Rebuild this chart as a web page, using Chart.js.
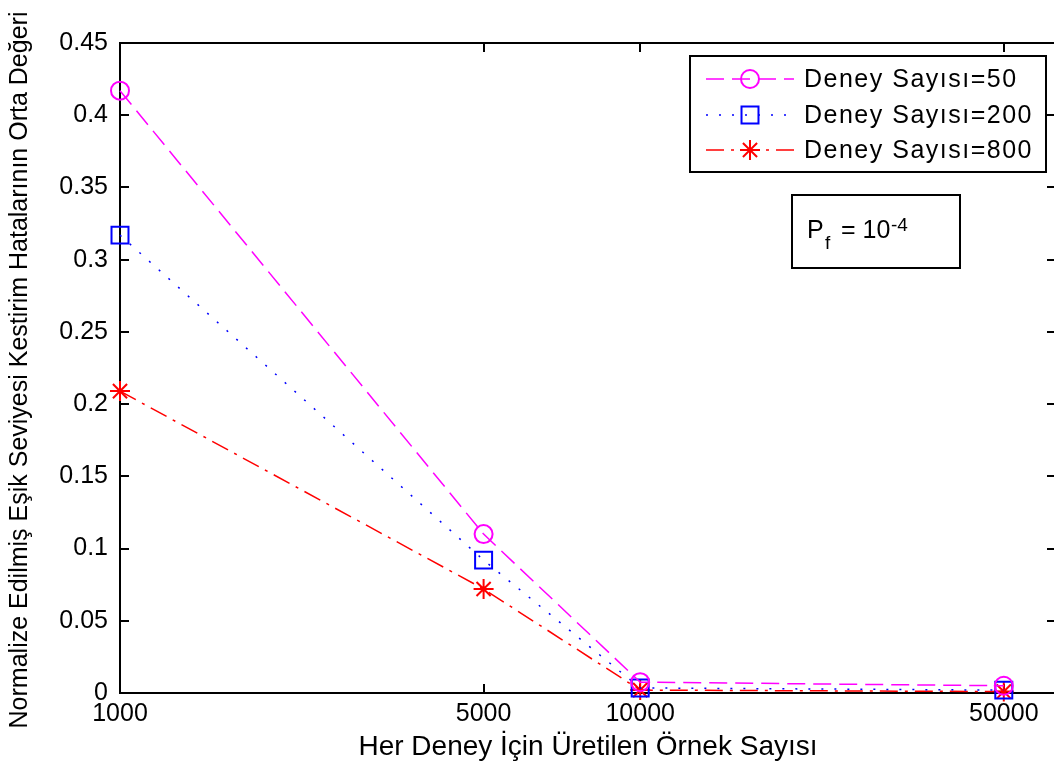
<!DOCTYPE html>
<html>
<head>
<meta charset="utf-8">
<script src="https://cdn.jsdelivr.net/npm/chart.js@4.4.1/dist/chart.umd.min.js"></script>
<style>
  html, body { margin: 0; padding: 0; background: #fff; overflow: hidden; }
  #wrap { width: 1054px; height: 771px; overflow: hidden; }
  canvas { display: block; }
</style>
</head>
<body>
<div id="wrap"><canvas id="chart" width="1070" height="771"></canvas></div>
<script>
// values
const sampleCounts = [1000, 5000, 10000, 50000];
const xTickLabels = ['1000', '5000', '10000', '50000'];
const yTickValues = [0, 0.05, 0.1, 0.15, 0.2, 0.25, 0.3, 0.35, 0.4, 0.45];
const trials50 = [0.417, 0.110, 0.0075, 0.005];
const trials200 = [0.317, 0.092, 0.0035, 0.002];
const trials800 = [0.209, 0.072, 0.002, 0.001];
const seriesLabels = ['Deney Sayısı=50', 'Deney Sayısı=200', 'Deney Sayısı=800'];
const xTitle = 'Her Deney İçin Üretilen Örnek Sayısı';
const yTitle = 'Normalize Edilmiş Eşik Seviyesi Kestirim Hatalarının Orta Değeri';

const FONT = '"Liberation Sans", Arial, sans-serif';

function toPoints(values) {
  return values.map((v, i) => ({ x: sampleCounts[i], y: v }));
}

const datasets = [
  {
    label: seriesLabels[0],
    data: toPoints(trials50),
    borderColor: '#ff00ff',
    borderDash: [18, 8],
    pointStyle: 'circle',
    pointRadius: 9,
  },
  {
    label: seriesLabels[1],
    data: toPoints(trials200),
    borderColor: '#0000ff',
    borderDash: [2, 11],
    pointStyle: 'rect',
    pointRadius: 12,
  },
  {
    label: seriesLabels[2],
    data: toPoints(trials800),
    borderColor: '#ff0000',
    borderDash: [18, 7, 3, 7],
    pointStyle: 'star',
    pointRadius: 10,
  },
].map(d => Object.assign(d, {
  borderWidth: 1.5,
  pointBorderColor: d.borderColor,
  pointBackgroundColor: 'rgba(0,0,0,0)',
  pointBorderWidth: 2,
  pointHoverRadius: d.pointRadius,
  fill: false,
  tension: 0,
  clip: false,
}));

// axes box with inward ticks on all four sides, like MATLAB
const framePlugin = {
  id: 'frame',
  beforeDatasetsDraw(chart) {
    const { ctx, chartArea: a, scales: { x, y } } = chart;
    const tl = 9;
    ctx.save();
    ctx.strokeStyle = '#000';
    ctx.lineWidth = 2;
    ctx.strokeRect(a.left, a.top, a.right - a.left, a.bottom - a.top);
    ctx.beginPath();
    y.ticks.forEach(t => {
      const py = Math.round(y.getPixelForValue(t.value));
      ctx.moveTo(a.left, py); ctx.lineTo(a.left + tl, py);
      ctx.moveTo(a.right, py); ctx.lineTo(a.right - tl, py);
    });
    x.ticks.forEach(t => {
      const px = Math.round(x.getPixelForValue(t.value));
      ctx.moveTo(px, a.bottom); ctx.lineTo(px, a.bottom - tl);
      ctx.moveTo(px, a.top); ctx.lineTo(px, a.top + tl);
    });
    ctx.stroke();
    ctx.restore();
  },
};

const annotPlugin = {
  id: 'annot',
  afterDraw(chart) {
    const { ctx, chartArea: a } = chart;
    ctx.save();

    // y axis title (drawn by hand, the built-in one gets squeezed to the axis height)
    ctx.fillStyle = '#000';
    ctx.font = '25px ' + FONT;
    ctx.textAlign = 'center';
    ctx.textBaseline = 'middle';
    ctx.translate(20, 370);
    ctx.rotate(-Math.PI / 2);
    ctx.fillText(yTitle, 0, 0);
    ctx.setTransform(1, 0, 0, 1, 0, 0);

    // legend box
    const lx = a.right - 366, ly = 56, lw = 356, lh = 116;
    ctx.fillStyle = '#fff';
    ctx.fillRect(lx, ly, lw, lh);
    ctx.strokeStyle = '#000';
    ctx.lineWidth = 2;
    ctx.strokeRect(lx, ly, lw, lh);
    const rows = [79, 115, 150];
    chart.data.datasets.forEach((ds, i) => {
      const ry = rows[i];
      ctx.strokeStyle = ds.borderColor;
      ctx.lineWidth = ds.borderWidth;
      ctx.setLineDash(ds.borderDash);
      ctx.beginPath();
      ctx.moveTo(lx + 16, ry);
      ctx.lineTo(lx + 104, ry);
      ctx.stroke();
      ctx.setLineDash([]);
      ctx.fillStyle = 'rgba(0,0,0,0)';
      ctx.lineWidth = ds.pointBorderWidth;
      Chart.helpers.drawPoint(ctx, {
        pointStyle: ds.pointStyle,
        radius: ds.pointRadius,
        borderWidth: ds.pointBorderWidth,
        rotation: 0,
      }, lx + 60, ry);
      ctx.fillStyle = '#000';
      ctx.font = '25px ' + FONT;
      ctx.letterSpacing = '1.5px';
      ctx.textAlign = 'left';
      ctx.textBaseline = 'middle';
      ctx.fillText(ds.label, lx + 114, ry + 1);
      ctx.letterSpacing = '0px';
    });

    // P_f = 10^-4 box
    const bx = 792, by = 195;
    ctx.strokeStyle = '#000';
    ctx.lineWidth = 2;
    ctx.strokeRect(bx, by, 168, 73);
    ctx.fillStyle = '#000';
    ctx.textAlign = 'left';
    ctx.textBaseline = 'alphabetic';
    ctx.font = '25px ' + FONT;
    ctx.fillText('P', bx + 15, by + 43);
    ctx.font = '19px ' + FONT;
    ctx.fillText('f', bx + 33, by + 54);
    ctx.font = '25px ' + FONT;
    ctx.fillText('= 10', bx + 49, by + 43);
    ctx.font = '19px ' + FONT;
    ctx.fillText('-4', bx + 99, by + 36);

    ctx.restore();
  },
};

new Chart(document.getElementById('chart'), {
  type: 'line',
  data: { datasets },
  plugins: [framePlugin, annotPlugin],
  options: {
    responsive: false,
    animation: false,
    devicePixelRatio: 1,
    layout: { padding: { top: 43, right: 13, left: 0, bottom: 0 } },
    plugins: {
      legend: { display: false },
      tooltip: { enabled: false },
    },
    scales: {
      x: {
        type: 'logarithmic',
        min: 1000,
        max: 63000,
        afterBuildTicks: scale => {
          scale.ticks = sampleCounts.map(v => ({ value: v }));
        },
        afterFit: scale => { scale.height = 78; },
        grid: { display: false, drawTicks: false },
        border: { display: false },
        ticks: {
          autoSkip: false,
          maxRotation: 0,
          padding: 6,
          color: '#000',
          font: { family: FONT, size: 25 },
          callback: value => xTickLabels[sampleCounts.indexOf(value)],
        },
        title: {
          display: true,
          text: xTitle,
          color: '#000',
          font: { family: FONT, size: 28 },
          padding: { top: 0, bottom: 7 },
        },
      },
      y: {
        min: 0,
        max: 0.45,
        afterBuildTicks: scale => {
          scale.ticks = yTickValues.map(v => ({ value: v }));
        },
        afterFit: scale => { scale.width = 120; },
        grid: { display: false, drawTicks: false },
        border: { display: false },
        ticks: {
          padding: 12,
          color: '#000',
          font: { family: FONT, size: 25 },
          callback: value => String(+value.toFixed(2)),
        },
      },
    },
  },
});
</script>
</body>
</html>
